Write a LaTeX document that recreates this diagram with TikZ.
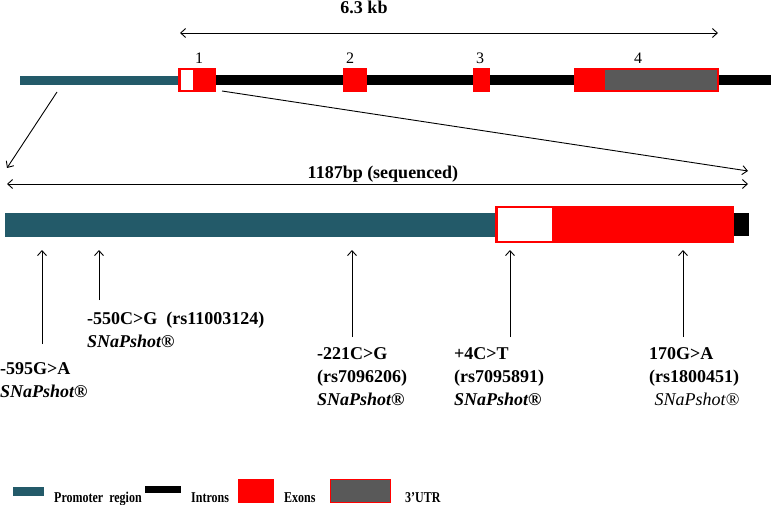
\documentclass[tikz,border=0pt]{standalone}
\usepackage{fontspec}
\setmainfont{Liberation Serif}
\usetikzlibrary{positioning,arrows.meta}

\definecolor{promo}{RGB}{35,90,105}
\definecolor{exred}{RGB}{255,0,0}
\definecolor{utrgray}{RGB}{89,89,89}

\begin{document}
\begin{tikzpicture}[x=1pt, y=-1pt,
    box/.style={rectangle, inner sep=0pt, outer sep=0pt, anchor=west},
    promoter/.style={box, fill=promo},
    intron/.style={box, fill=black},
    exon/.style={box, fill=exred},
    hole/.style={box, fill=white},
    utr/.style={box, fill=utrgray},
    num/.style={inner sep=0pt, font=\fontsize{16}{18}\selectfont},
    snp/.style={anchor=base west, align=left, inner sep=0pt, font=\fontsize{18}{23}\selectfont\bfseries},
    tag/.style={anchor=base west, inner sep=0pt, font=\fontsize{15}{18}\selectfont\bfseries},
    arr/.style={-{Straight Barb[length=5pt, width=9pt]}, line width=0.9pt}
]
\useasboundingbox (0,0) rectangle (771,505);

% Gene overview
\node[promoter, minimum width=158pt, minimum height=9pt] (tprom) at (20,80.5) {};
\node[intron, minimum width=555pt, minimum height=10pt] (tintr) at (216,80) {};
\node[exon, minimum width=38pt, minimum height=24pt] (ex1) at (178,80) {};
\node[hole, minimum width=12pt, minimum height=20pt] (ex1u) at (180.5,80) {};
\node[exon, minimum width=24pt, minimum height=24pt] (ex2) at (343,80) {};
\node[exon, minimum width=17pt, minimum height=24pt] (ex3) at (473,80) {};
\node[exon, minimum width=145pt, minimum height=24pt] (ex4) at (574,80) {};
\node[utr, minimum width=112pt, minimum height=20pt] (utr4) at (605,80) {};

% Exon numbers
\foreach \n/\x in {1/199, 2/350, 3/480, 4/638}{
    \node[num] (lab\n) at (\x,58) {\n};
}

% Gene length
\coordinate (kbL) at (180,33);
\coordinate (kbR) at (718,33);
\draw[arr, {Straight Barb[length=5pt, width=9pt]}-{Straight Barb[length=5pt, width=9pt]}] (kbL) -- (kbR);
\node[tag, anchor=base, font=\fontsize{18}{20}\selectfont\bfseries] (kb) at (364,14) {6.3 kb};

% Zoom lines
\coordinate (z1a) at (57,92);
\coordinate (z1b) at (7,168);
\coordinate (z2a) at (222,91);
\coordinate (z2b) at (748,171);
\draw[arr] (z1a) -- (z1b);
\draw[arr] (z2a) -- (z2b);

% Sequenced length
\coordinate (bpL) at (7,184);
\coordinate (bpR) at (748,184);
\draw[arr, {Straight Barb[length=5pt, width=9pt]}-{Straight Barb[length=5pt, width=9pt]}] (bpL) -- (bpR);
\node[tag, anchor=base, font=\fontsize{18}{20}\selectfont\bfseries] (bp) at (383,179) {1187bp (sequenced)};

% Sequenced region
\node[promoter, minimum width=490pt, minimum height=24pt] (bprom) at (5,225) {};
\node[intron, minimum width=16pt, minimum height=23pt] (bend) at (733,224.5) {};
\node[exon, minimum width=239pt, minimum height=37pt] (bex) at (495,224.5) {};
\node[hole, minimum width=54.5pt, minimum height=33pt] (bexu) at (497.5,224.5) {};

% SNP arrows
\foreach \n/\x/\y in {a/42/344, b/99/300, c/352/337, d/510/337, e/683/337}{
    \coordinate (\n0) at (\x,\y);
    \coordinate (\n1) at (\x,250);
    \draw[arr] (\n0) -- (\n1);
}

% SNP labels (base = last line)
\node[snp] (snpa) at (0,397) {-595G>A\\\textit{SNaPshot®}};
\node[snp] (snpb) at (87,347) {-550C>G\ \ (rs11003124)\\\textit{SNaPshot®}};
\node[snp] (snpc) at (317,405) {-221C>G\\(rs7096206)\\\textit{SNaPshot®}};
\node[snp] (snpd) at (454,405) {+4C>T\\(rs7095891)\\\textit{SNaPshot®}};
\node[snp] (snpe) at (649,405) {170G>A\\(rs1800451)\\\hspace*{\fill}{\mdseries\itshape SNaPshot®}};

% Legend
\node[promoter, minimum width=31pt, minimum height=9pt] (lgprom) at (13,491.5) {};
\node[intron, minimum width=36pt, minimum height=7pt] (lgintr) at (145,489.5) {};
\node[exon, minimum width=36pt, minimum height=24pt] (lgex) at (238,491) {};
\node[utr, draw=exred, line width=1.5pt, minimum width=60pt, minimum height=23pt] (lgutr) at (330.5,491) {};
\node[tag] (tprom) at (54,502) {\scalebox{0.8}[1]{Promoter\ \ region}};
\node[tag] (tintr) at (191,502) {\scalebox{0.8}[1]{Introns}};
\node[tag] (tex) at (284,502) {\scalebox{0.8}[1]{Exons}};
\node[tag] (tutr) at (405,502) {\scalebox{0.8}[1]{3’UTR}};

\end{tikzpicture}
\end{document}
